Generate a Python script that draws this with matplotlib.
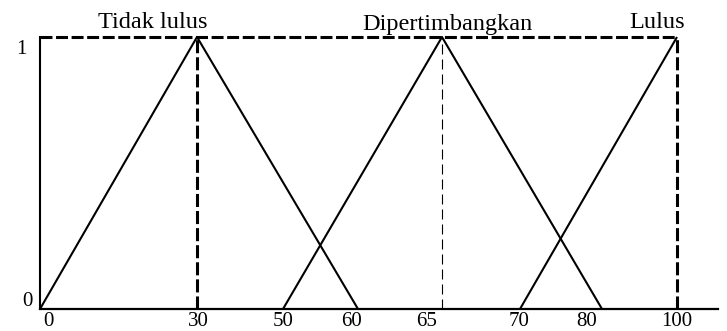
import numpy as np
import matplotlib
matplotlib.use('Agg')
import matplotlib.pyplot as plt

plt.rcParams['font.family'] = ['Liberation Serif', 'DejaVu Serif']
plt.rcParams['lines.scale_dashes'] = False

# ---- data ----
categories = ['Tidak lulus', 'Dipertimbangkan', 'Lulus']
tidak_x = [0, 30, 60]
tidak_y = [0, 1, 0]
dip_x = [50, 65, 80]
dip_y = [0, 1, 0]
lulus_x = [70, 100]
lulus_y = [0, 1]
peaks = [30, 65, 100]
xtick_values = [0, 30, 50, 60, 65, 70, 80, 100]
xtick_labels = ['0', '30', '50', '60', '65', '70', '80', '100']
ytick_values = [0, 1]
ytick_labels = ['0', '1']

# ---- layout: hand-drawn (non-uniform) x axis ----
scale_vals = [0, 30, 50, 60, 65, 70, 80, 100, 110]
scale_pos = [40, 197, 283, 358, 442, 520, 602, 677, 718]


def fwd(v):
    return np.interp(v, scale_vals, scale_pos)


def inv(p):
    return np.interp(p, scale_pos, scale_vals)


W, H = 727, 331
fig = plt.figure(figsize=(W / 100, H / 100), dpi=100)
ax = fig.add_axes([40 / W, 22 / H, 678 / W, 272 / H])
ax.set_xscale('function', functions=(fwd, inv))
ax.set_xlim(0, 110)
ax.set_ylim(0, 1)

for s in ['top', 'right']:
    ax.spines[s].set_visible(False)
ax.spines['left'].set_linewidth(1.5)
ax.spines['bottom'].set_linewidth(1.6)
ax.set_xticks([])
ax.set_yticks([])

# membership functions
for xs, ys in [(tidak_x, tidak_y), (dip_x, dip_y), (lulus_x, lulus_y)]:
    ax.plot(xs, ys, color='black', lw=1.5, clip_on=False, solid_capstyle='butt')

# dashed guide lines
ax.plot([0, 100], [1, 1], color='black', lw=2.2, dashes=(8.6, 2.6), clip_on=False)
ax.plot([peaks[0], peaks[0]], [0, 1], color='black', lw=2.2, dashes=(9.4, 2.9), clip_on=False)
ax.plot([peaks[2], peaks[2]], [0, 1], color='black', lw=2.2, dashes=(9.4, 2.9), clip_on=False)
ax.plot([peaks[1], peaks[1]], [0, 1], color='black', lw=0.8, dashes=(7.2, 3.6), clip_on=False)

# x tick labels
x_off = [8, 1, 0, -6, -15, -1, -15, 0]
for v, lab, dx in zip(xtick_values, xtick_labels, x_off):
    ax.annotate(lab, xy=(v, 0), xycoords=('data', 'axes fraction'),
                xytext=(dx, -3), textcoords='offset pixels',
                ha='center', va='top', fontsize=15, annotation_clip=False)

# y tick labels
y_off = [(-13, 8), (-19, -13)]
for v, lab, (dx, dy) in zip(ytick_values, ytick_labels, y_off):
    ax.annotate(lab, xy=(0, v), xycoords=('axes fraction', 'data'),
                xytext=(dx, dy), textcoords='offset pixels',
                ha='center', va='center', fontsize=15, annotation_clip=False)

# category labels
c_off = [(-44, 9), (5, 7), (-20, 9)]
for name, pk, (dx, dy) in zip(categories, peaks, c_off):
    ax.annotate(name, xy=(pk, 1), xycoords='data',
                xytext=(dx, dy), textcoords='offset pixels',
                ha='center', va='baseline', fontsize=17.5, annotation_clip=False)

fig.savefig('out.png', dpi=100)
